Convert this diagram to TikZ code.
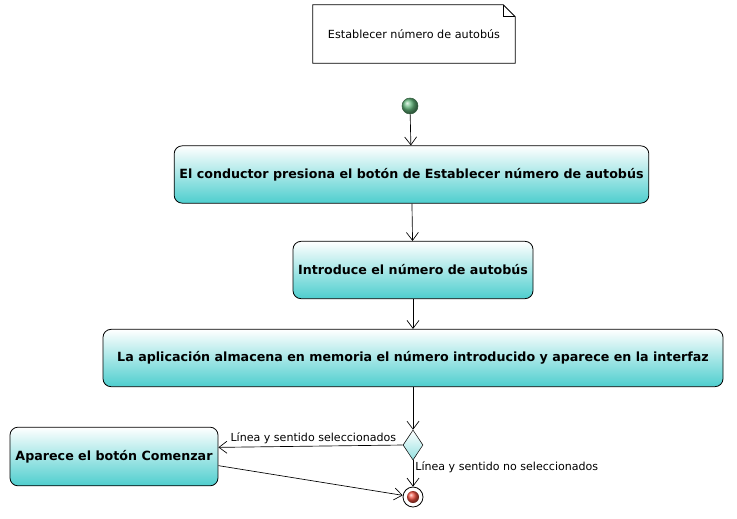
\documentclass[tikz,border=0pt]{standalone}
\usepackage{fontspec}
\setmainfont{DejaVu Sans}
\usetikzlibrary{shapes.geometric,arrows.meta}
\definecolor{actcyan}{RGB}{78,206,206}
\definecolor{startgreen}{RGB}{100,185,125}
\definecolor{endred}{RGB}{240,80,65}
\tikzset{
  action/.style={draw, rectangle, rounded corners=6pt, top color=white, bottom color=actcyan,
    line width=0.6pt, font=\fontsize{9.5}{11}\selectfont\bfseries, minimum height=43pt},
  flow/.style={-{Straight Barb[length=6pt,width=9pt]}, line width=0.5pt},
  guard/.style={font=\fontsize{8.3}{10}\selectfont, inner sep=1.5pt}
}
\begin{document}
\begin{tikzpicture}[x=0.75pt, y=-0.75pt]
\useasboundingbox (0,0) rectangle (737,518);
% note
\node (note) [minimum width=151.5pt, minimum height=43.5pt, font=\fontsize{8.4}{10}\selectfont] at (414,34) {Establecer número de autobús};
\draw [line width=0.6pt] (note.north west) -- ([xshift=-9pt]note.north east) -- ([yshift=-9pt]note.north east) -- (note.south east) -- (note.south west) -- cycle;
\draw [line width=0.5pt] ([xshift=-9pt]note.north east) -- ([xshift=-9pt,yshift=-9pt]note.north east) -- ([yshift=-9pt]note.north east);

% start and end
\node (start) [circle, draw=startgreen!50!black, shading=ball, ball color=startgreen, minimum size=12pt, inner sep=0pt] at (410,106) {};
\node (end) [circle, draw, fill=white, minimum size=15pt, inner sep=0pt, line width=0.6pt] at (413,497) {};
\node (endin) [circle, shading=ball, ball color=endred, minimum size=9pt, inner sep=0pt] at (end) {};

% actions
\node (pulsa) [action, minimum width=356pt] at (411.5,174.5) {El conductor presiona el botón de Establecer número de autobús};
\node (numero) [action, minimum width=180pt] at (413,270) {Introduce el número de autobús};
\node (guarda) [action, minimum width=465pt] at (413,358) {La aplicación almacena en memoria el número introducido y aparece en la interfaz};
\node (dia) [diamond, draw, top color=white, bottom color=actcyan!60, minimum width=15pt, minimum height=22.5pt, inner sep=0pt] at (413,445) {};
\node (comenzar) [action, minimum width=156pt, minimum height=44pt] at (114,456.5) {Aparece el botón Comenzar};

\draw [flow] (start) -- (pulsa);
\draw [flow] (pulsa) -- (numero);
\draw [flow] (numero) -- (guarda);
\draw [flow] (guarda) -- (dia);
\draw [flow] (dia.west) -- node[guard, above, pos=0.485] {Línea y sentido seleccionados} (comenzar.5);
\draw [flow] (dia.south) -- node[guard, pos=0.25, anchor=west] {Línea y sentido no seleccionados} (end);
\draw [flow] (comenzar.-5) -- (end);
\end{tikzpicture}
\end{document}
